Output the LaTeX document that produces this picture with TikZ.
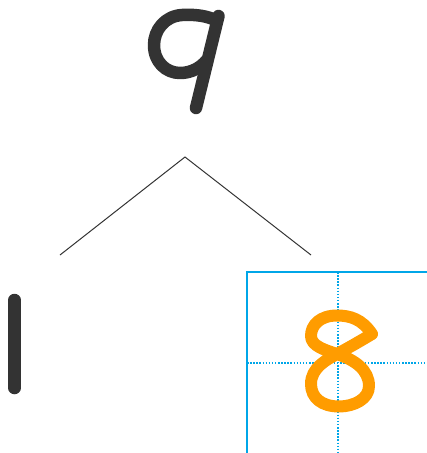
\documentclass[tikz,border=0pt]{standalone}
\usetikzlibrary{calc}
\definecolor{ink}{HTML}{333333}
\definecolor{gridblue}{HTML}{00A6E8}
\definecolor{eightorange}{HTML}{FF9C00}
\begin{document}
\begin{tikzpicture}[x=1pt,y=-1pt,
  glyph/.style={draw=ink,line width=12.5pt,line cap=round,line join=round},
  orangeglyph/.style={draw=eightorange,line width=12pt,line cap=round,line join=round},
  branch/.style={draw=ink,line width=1pt},
  frame/.style={draw=gridblue,line width=2.8pt},
  guide/.style={draw=gridblue,line width=1.5pt,dash pattern=on 1.5pt off 1.6pt}]
\useasboundingbox (0,0) rectangle (427,453);
\clip (0,0) rectangle (427,453);
% digit 9
\draw[glyph] (213,19) .. controls (203,15) and (192,14.5) .. (182,15)
  .. controls (165,16) and (154,30) .. (154,45)
  .. controls (154,62) and (166,73) .. (180,73)
  .. controls (192,73) and (201,67) .. (206,61);
\draw[glyph] (218.5,16) -- (196,108);
% branches
\coordinate (apex) at (185,157);
\coordinate (leftend) at (60,255);
\coordinate (rightend) at (311,255);
\draw[branch] (leftend) -- (apex) -- (rightend);
% digit 1
\draw[glyph] (14.5,300) -- (14.5,388);
% writing grid
\coordinate (gtl) at (247,272);
\draw[guide] (338,272) -- (338,460);
\draw[guide] (247,363) -- (440,363);
\draw[frame] (gtl) ++(0,190) |- (440,272);
% digit 8
\draw[orangeglyph] (372,334) .. controls (362,319) and (350,315.5) .. (337,315.5)
  .. controls (320,315.5) and (311,325) .. (311,336)
  .. controls (311,346) and (325,350) .. (337,354)
  .. controls (355,360) and (369,370) .. (369,386)
  .. controls (369,399) and (354,406.5) .. (339,406.5)
  .. controls (322,406.5) and (311,398) .. (311,384)
  .. controls (311,368) and (326,360) .. (337,354)
  .. controls (350,347) and (362,340) .. (372,334);
\end{tikzpicture}
\end{document}
